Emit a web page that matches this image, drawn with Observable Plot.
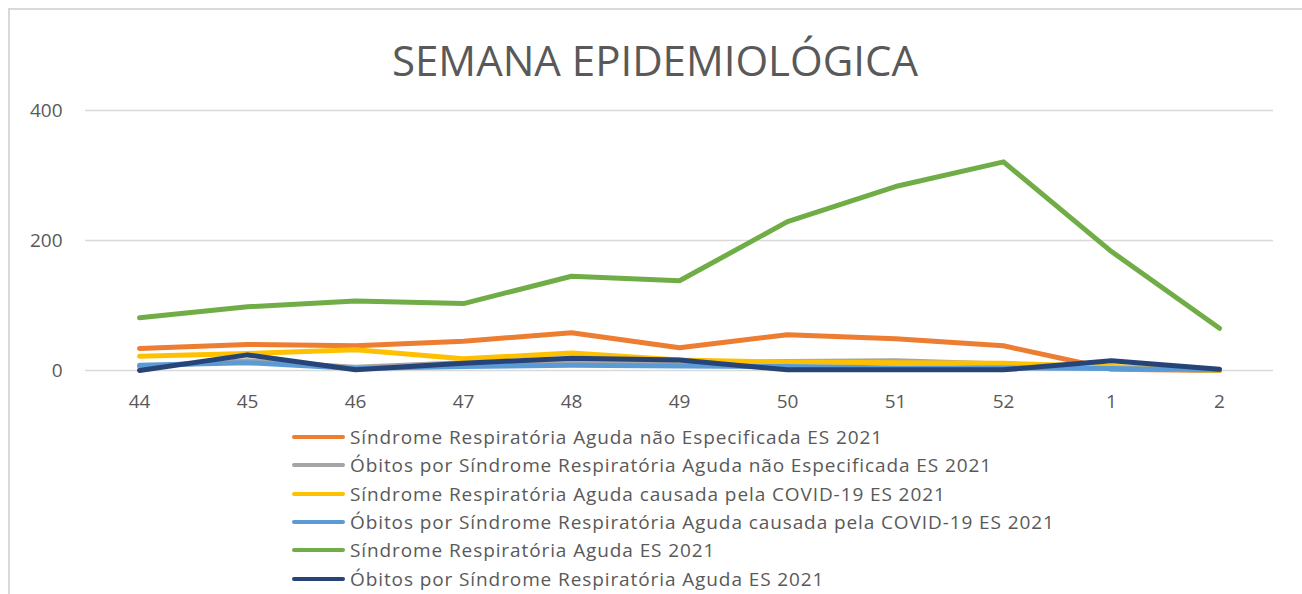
<!DOCTYPE html>
<html><head><meta charset="utf-8">
<script src="https://cdn.jsdelivr.net/npm/d3@7"></script>
<script src="https://cdn.jsdelivr.net/npm/@observablehq/plot@0.6"></script>
<style>
html,body{margin:0;padding:0;background:#fff;}
#wrap{position:relative;width:1302px;height:594px;overflow:hidden;font-family:"Open Sans",sans-serif;color:#595959;}
#frame{position:absolute;left:8px;top:8px;width:1400px;height:700px;border-left:2px solid #d9d9d9;border-top:2px solid #d9d9d9;}
#title{position:absolute;left:0;width:1310px;top:33px;text-align:center;font-size:42px;line-height:54px;white-space:nowrap;}
#chart{position:absolute;left:0;top:0;}
#legend{position:absolute;left:292px;top:423px;}
.row{display:flex;align-items:center;height:28.3px;font-size:19px;letter-spacing:0.9px;white-space:nowrap;}
.sw{width:53px;height:4px;border-radius:2px;margin-right:5px;}
</style></head>
<body><div id="wrap"><div id="frame"></div><div id="chart"></div><div id="title">SEMANA EPIDEMIOLÓGICA</div><div id="legend"></div></div>
<script>
const weeks = ["44","45","46","47","48","49","50","51","52","1","2"];
const seriesNames = [
  "Síndrome Respiratória Aguda não Especificada ES 2021",
  "Óbitos por Síndrome Respiratória Aguda não Especificada ES 2021",
  "Síndrome Respiratória Aguda causada pela COVID-19 ES 2021",
  "Óbitos por Síndrome Respiratória Aguda causada pela COVID-19 ES 2021",
  "Síndrome Respiratória Aguda ES 2021",
  "Óbitos por Síndrome Respiratória Aguda ES 2021"
];
const colors = ["#ED7D31","#A5A5A5","#FFC000","#5B9BD5","#70AD47","#264478"];
const sragNaoEspec      = [34, 40, 38, 45, 58, 35, 55, 49, 38, 2, 0];
const obitosNaoEspec    = [6, 15, 5, 12, 14, 12, 14, 15, 10, 5, 0];
const sragCovid         = [22, 26, 32, 18, 27, 16, 13, 12, 11, 6, 0];
const obitosCovid       = [8, 12, 3, 6, 8, 7, 6, 4, 4, 3, 1];
const srag              = [81, 98, 107, 103, 145, 138, 229, 283, 321, 183, 65];
const obitosSrag        = [0, 24, 1, 11, 19, 16, 1, 1, 1, 15, 2];
const yTicks = [0, 200, 400];

const allSeries = [sragNaoEspec, obitosNaoEspec, sragCovid, obitosCovid, srag, obitosSrag];
const data = [];
allSeries.forEach((vals, i) => vals.forEach((v, j) => data.push({week: weeks[j], value: v, series: seriesNames[i]})));

const plot = Plot.plot({
  width: 1302, height: 420,
  marginLeft: 85, marginRight: 29, marginTop: 110, marginBottom: 50,
  style: {fontFamily: "Open Sans, sans-serif", fontSize: "19px", color: "#595959", background: "transparent"},
  x: {type: "point", domain: weeks, padding: 0.5, label: null, tickSize: 0, tickPadding: 24},
  y: {domain: [0, 400], ticks: yTicks, label: null, tickSize: 0, tickPadding: 23},
  color: {domain: seriesNames, range: colors},
  marks: [
    Plot.gridY(yTicks, {stroke: "#d9d9d9", strokeOpacity: 1, strokeWidth: 1.5}),
    Plot.axisX({tickSize: 0, tickPadding: 24, label: null}),
    Plot.axisY(yTicks, {tickSize: 0, tickPadding: 23, label: null}),
    Plot.line(data, {x: "week", y: "value", z: "series", stroke: "series", strokeWidth: 5, strokeLinecap: "round", strokeLinejoin: "round"})
  ]
});
document.getElementById("chart").appendChild(plot);

const lg = document.getElementById("legend");
seriesNames.forEach((n, i) => {
  const r = document.createElement("div"); r.className = "row";
  const s = document.createElement("div"); s.className = "sw"; s.style.background = colors[i];
  const t = document.createElement("span"); t.textContent = n;
  r.appendChild(s); r.appendChild(t); lg.appendChild(r);
});
</script></body></html>
